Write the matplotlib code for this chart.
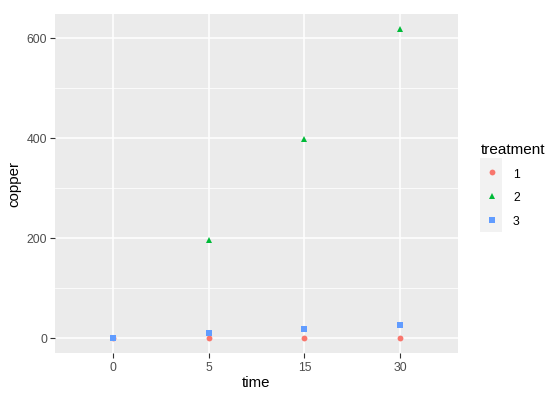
import numpy as np
import matplotlib.pyplot as plt
from matplotlib.patches import Rectangle

plt.rcParams['font.family'] = ['Liberation Sans', 'DejaVu Sans']

# Data
times = ["0", "5", "15", "30"]
treatments = ["1", "2", "3"]
copper_1 = [0, 0, 0, 0]
copper_2 = [0, 195, 398, 617]
copper_3 = [0, 9, 17, 26]

colors = ["#F8766D", "#00BA38", "#619CFF"]
markers = ["o", "^", "s"]
sizes = [4.2, 4.8, 4.2]

fig = plt.figure(figsize=(5.5, 4.02), dpi=100)
ax = fig.add_axes([55 / 550, 1 - 354 / 402, (458 - 55) / 550, (354 - 15) / 402])
ax.set_facecolor("#EBEBEB")

x = np.arange(len(times))
handles = []
for vals, c, m, s, lab in zip([copper_1, copper_2, copper_3], colors, markers, sizes, treatments):
    h, = ax.plot(x, vals, linestyle="none", marker=m, color=c, markersize=s,
                 markeredgewidth=0, label=lab, zorder=3)
    handles.append(h)

# axes limits like ggplot expansion
ax.set_xlim(-0.6, len(times) - 1 + 0.6)
all_vals = copper_1 + copper_2 + copper_3
lo, hi = min(all_vals), max(all_vals)
pad = 0.05 * (hi - lo)
ax.set_ylim(lo - pad, hi + pad)

ax.set_xticks(x)
ax.set_xticklabels(times)
ax.set_yticks([0, 200, 400, 600])
ax.set_yticks([100, 300, 500], minor=True)

ax.grid(which="major", color="white", linewidth=1.1)
ax.grid(which="minor", axis="y", color="white", linewidth=0.55)
ax.set_axisbelow(True)
for sp in ax.spines.values():
    sp.set_visible(False)

ax.tick_params(which="major", length=3.5, width=0.8, color="#333333",
               labelcolor="#4D4D4D", labelsize=8.8, pad=2)
ax.tick_params(which="minor", length=0)

ax.set_xlabel("time", fontsize=10.8, labelpad=2)
ax.set_ylabel("copper", fontsize=10.8, labelpad=4)

# legend
fig.patches.append(Rectangle((480 / 550, 1 - 233 / 402), 22 / 550, 74 / 402,
                             transform=fig.transFigure, facecolor="#F2F2F2",
                             edgecolor="none", zorder=0))
leg = fig.legend(handles=handles, labels=treatments, title="treatment",
                 loc="upper left", bbox_to_anchor=(470 / 550, 1 - 132 / 402),
                 frameon=False, fontsize=8.8, title_fontsize=11,
                 handlelength=1.8, handletextpad=0.82, labelspacing=0.95,
                 markerscale=1.0)
leg._legend_box.align = "left"

fig.savefig("out.png", dpi=100)
